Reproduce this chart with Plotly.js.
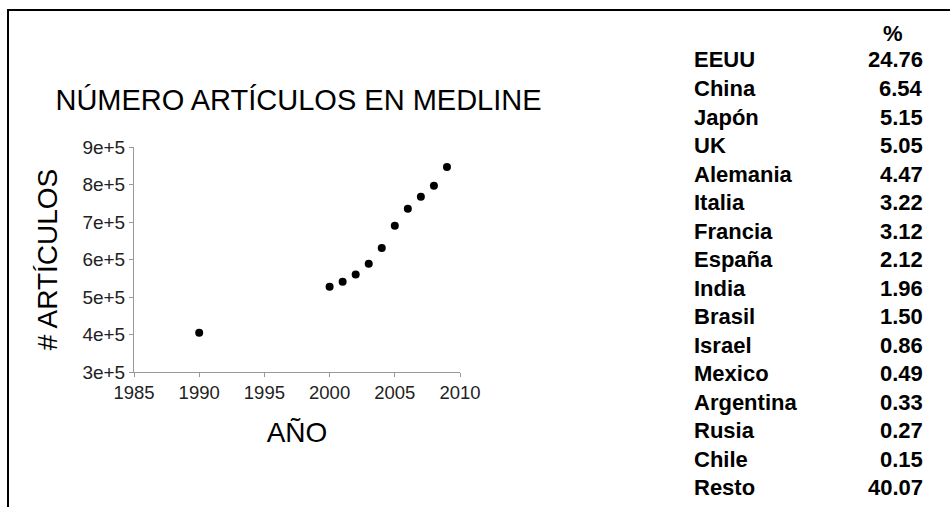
<!DOCTYPE html>
<html>
<head>
<meta charset="utf-8">
<script src="https://cdn.plot.ly/plotly-3.0.1.min.js"></script>
<style>html,body{margin:0;padding:0;background:#fff;}#chart{width:951px;height:507px;}</style>
</head>
<body>
<div id="chart"></div>
<script>
// ---- data ----
const years = [1990, 2000, 2001, 2002, 2003, 2004, 2005, 2006, 2007, 2008, 2009];
const articles = [405000, 527500, 541000, 560000, 589000, 631000, 690000, 735500, 767500, 797000, 846500];
const yTickVals = [300000, 400000, 500000, 600000, 700000, 800000, 900000];
const yTickText = ['3e+5', '4e+5', '5e+5', '6e+5', '7e+5', '8e+5', '9e+5'];
const xTickVals = [1985, 1990, 1995, 2000, 2005, 2010];
const countries = ['EEUU', 'China', 'Japón', 'UK', 'Alemania', 'Italia', 'Francia', 'España', 'India', 'Brasil', 'Israel', 'Mexico', 'Argentina', 'Rusia', 'Chile', 'Resto'];
const percents = ['24.76', '6.54', '5.15', '5.05', '4.47', '3.22', '3.12', '2.12', '1.96', '1.50', '0.86', '0.49', '0.33', '0.27', '0.15', '40.07'];

// ---- layout helpers ----
const W = 951, H = 507;
const px = x => x / W;
const py = y => 1 - y / H;
const FONT = 'Liberation Sans, Arial, sans-serif';

const annotations = [];
annotations.push({
  xref: 'paper', yref: 'paper', x: px(893), y: py(33), xanchor: 'center', yanchor: 'middle',
  text: '<b>%</b>', showarrow: false, font: {family: FONT, size: 22, color: '#000'}
});
const rowTop = 60, rowStep = 28.5;
countries.forEach((c, i) => {
  annotations.push({
    xref: 'paper', yref: 'paper', x: px(692), y: py(rowTop + i * rowStep), xanchor: 'left', yanchor: 'middle',
    text: '<b>' + c + '</b>', showarrow: false, font: {family: FONT, size: 22, color: '#000'}
  });
  annotations.push({
    xref: 'paper', yref: 'paper', x: px(925), y: py(rowTop + i * rowStep), xanchor: 'right', yanchor: 'middle',
    text: '<b>' + percents[i] + '</b>', showarrow: false, font: {family: FONT, size: 22, color: '#000'}
  });
});

const trace = {
  x: years, y: articles, type: 'scatter', mode: 'markers',
  marker: {color: '#000', size: 8},
  hoverinfo: 'skip'
};

const layout = {
  width: W, height: H,
  margin: {l: 0, r: 0, t: 0, b: 0},
  paper_bgcolor: '#fff', plot_bgcolor: '#fff',
  showlegend: false,
  font: {family: FONT, color: '#000'},
  title: {
    text: 'NÚMERO ARTÍCULOS EN MEDLINE',
    x: px(298.5), y: py(100), xanchor: 'center', yanchor: 'middle', xref: 'paper', yref: 'paper',
    font: {family: FONT, size: 29, color: '#000'}
  },
  xaxis: {
    domain: [px(134), px(460)],
    range: [1985, 2010],
    tickvals: xTickVals,
    showgrid: false, zeroline: false,
    showline: true, linecolor: '#999', linewidth: 1,
    ticks: 'outside', ticklen: 4, tickcolor: '#999',
    tickfont: {family: FONT, size: 18.5, color: '#222'},
    title: {text: 'AÑO', font: {family: FONT, size: 28, color: '#000'}, standoff: 20}
  },
  yaxis: {
    domain: [1 - 372 / H, 1 - 147 / H],
    range: [300000, 900000],
    tickvals: yTickVals, ticktext: yTickText,
    showgrid: false, zeroline: false,
    showline: true, linecolor: '#999', linewidth: 1,
    ticks: 'outside', ticklen: 4, tickcolor: '#999',
    tickfont: {family: FONT, size: 19, color: '#222'},
    title: {text: '# ARTÍCULOS', font: {family: FONT, size: 28, color: '#000'}, standoff: 16}
  },
  shapes: [
    {type: 'line', xref: 'paper', yref: 'paper', x0: px(8), x1: px(8), y0: py(10), y1: 0, line: {color: '#000', width: 2}},
    {type: 'line', xref: 'paper', yref: 'paper', x0: px(7), x1: px(950), y0: py(10), y1: py(10), line: {color: '#000', width: 2}}
  ],
  annotations: annotations
};

Plotly.newPlot('chart', [trace], layout, {staticPlot: true, displayModeBar: false});
</script>
</body>
</html>
